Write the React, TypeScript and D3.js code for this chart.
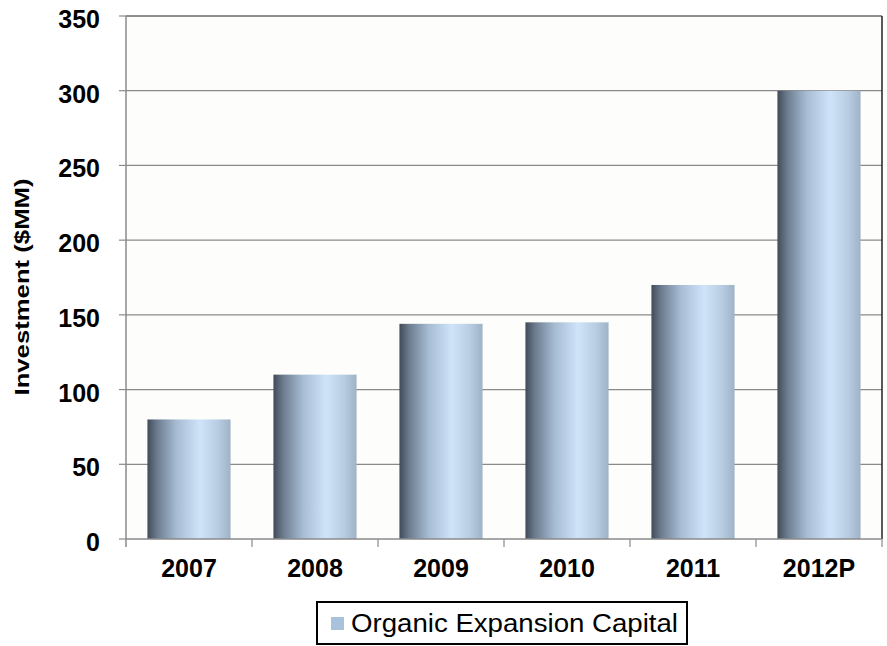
import React from "react";
import * as d3 from "d3";

const categories = ["2007", "2008", "2009", "2010", "2011", "2012P"];
const values = [80, 110, 144, 145, 170, 300];
const yTicks = [0, 50, 100, 150, 200, 250, 300, 350];
const seriesName = "Organic Expansion Capital";
const yTitle = "Investment ($MM)";

export default function App() {
  const W = 887, H = 646;
  const left = 126, right = 882, top = 16, bottom = 539;
  const x = d3.scaleBand<string>().domain(categories).range([left, right]).paddingInner(0.34).paddingOuter(0.17);
  const xb = d3.scaleBand<string>().domain(categories).range([left, right]);
  const y = d3.scaleLinear().domain([0, 350]).range([bottom, top]);
  const font = "'Liberation Sans', Arial, sans-serif";
  return (
    <svg width={W} height={H} style={{ position: "absolute", left: 0, top: 0 }} fontFamily={font}>
      <defs>
        <linearGradient id="barg" x1="0" x2="1" y1="0" y2="0">
          <stop offset="0" stopColor="#414b58" />
          <stop offset="0.12" stopColor="#6d7d90" />
          <stop offset="0.35" stopColor="#a6bcd3" />
          <stop offset="0.63" stopColor="#cfe4f9" />
          <stop offset="0.85" stopColor="#b8cde2" />
          <stop offset="1" stopColor="#9fb2c6" />
        </linearGradient>
      </defs>
      <rect x={0} y={0} width={W} height={H} fill="#ffffff" />
      <rect x={left} y={top} width={right - left} height={bottom - top} fill="#fdfefb" />
      {yTicks.map((t) => (
        <g key={t}>
          {t > 0 && t < 350 && <line x1={left} x2={right} y1={y(t)} y2={y(t)} stroke="#8a8a8a" strokeWidth={1.2} />}
          <line x1={left - 7} x2={left} y1={y(t)} y2={y(t)} stroke="#8a8a8a" strokeWidth={1.2} />
          <text x={100} y={y(t) + 12} textAnchor="end" fontSize={25} fontWeight="bold" fill="#000">{t}</text>
        </g>
      ))}
      {categories.map((c, i) => (
        <rect key={c} x={x(c)} y={y(values[i])} width={x.bandwidth()} height={bottom - y(values[i])} fill="url(#barg)" />
      ))}
      <line x1={left} x2={right} y1={top} y2={top} stroke="#6a6a6a" strokeWidth={1.5} />
      <line x1={right} x2={right} y1={top} y2={bottom} stroke="#222" strokeWidth={1.5} />
      <line x1={left} x2={left} y1={top} y2={bottom + 8} stroke="#8a8a8a" strokeWidth={1.5} />
      <line x1={left} x2={right} y1={bottom} y2={bottom} stroke="#8a8a8a" strokeWidth={1.5} />
      {categories.map((c) => (
        <line key={"t" + c} x1={(xb(c) as number) + xb.bandwidth()} x2={(xb(c) as number) + xb.bandwidth()} y1={bottom} y2={bottom + 8} stroke="#8a8a8a" strokeWidth={1.2} />
      ))}
      {categories.map((c) => (
        <text key={"l" + c} x={(x(c) as number) + x.bandwidth() / 2} y={577} textAnchor="middle" fontSize={25} fontWeight="bold" fill="#000">{c}</text>
      ))}
      <text transform={`translate(29,287) rotate(-90)`} textAnchor="middle" fontSize={20} fontWeight="bold" fill="#000" textLength={217} lengthAdjust="spacingAndGlyphs">{yTitle}</text>
      <rect x={317} y={602} width={370} height={42} fill="#fff" stroke="#000" strokeWidth={2} />
      <rect x={331} y={617} width={13} height={13} fill="#a9c2dc" />
      <text x={351} y={632} fontSize={26} fill="#000" textLength={327} lengthAdjust="spacingAndGlyphs">{seriesName}</text>
    </svg>
  );
}
